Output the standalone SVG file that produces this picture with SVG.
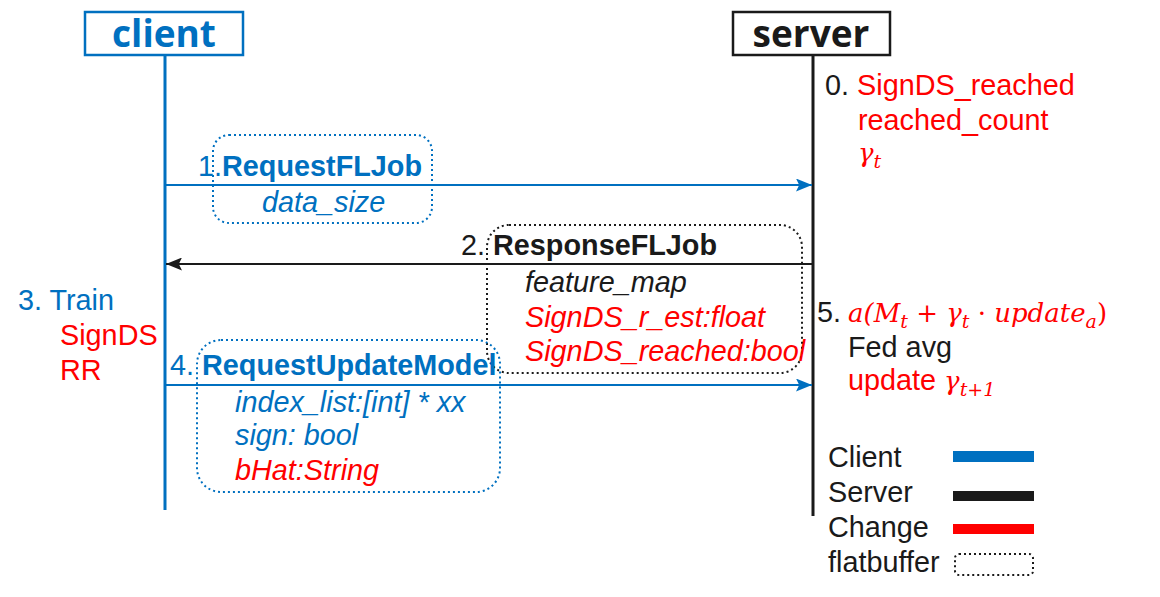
<svg xmlns="http://www.w3.org/2000/svg" width="1160" height="597" viewBox="0 0 1160 597">
<style>
.t{font-family:"Liberation Sans",Arial,sans-serif;font-size:28.8px}
.b{font-weight:bold}
.i{font-style:italic}
.blue{fill:#0070C0}
.red{fill:#FF0000}
.blk{fill:#1a1a1a}
.m{font-family:"DejaVu Serif","Liberation Serif",serif;font-style:italic;font-size:26px;fill:#FF0000}
.title{font-family:"Open Sans","DejaVu Sans",sans-serif;font-weight:bold;font-size:37px}
.fb{fill:none;stroke-width:2;stroke-dasharray:2 3}
</style>
<defs>
<marker id="ab" viewBox="0 0 10 10" refX="10" refY="5" markerWidth="16" markerHeight="13" markerUnits="userSpaceOnUse" orient="auto" preserveAspectRatio="none"><path d="M0,0 L10,5 L0,10 L2,5 z" fill="#0070C0"/></marker>
<marker id="ak" viewBox="0 0 10 10" refX="10" refY="5" markerWidth="16" markerHeight="13" markerUnits="userSpaceOnUse" orient="auto" preserveAspectRatio="none"><path d="M0,0 L10,5 L0,10 L2,5 z" fill="#1a1a1a"/></marker>
</defs>
<rect width="1160" height="597" fill="#fff"/>

<g id="client">
<rect x="85" y="12" width="158" height="43" fill="#fff" stroke="#0070C0" stroke-width="2.5"/>
<text class="title blue" x="164" y="47" text-anchor="middle">client</text>
<line x1="165" y1="55" x2="165" y2="510" stroke="#0070C0" stroke-width="3"/>
</g>
<g id="server">
<rect x="733" y="12" width="157" height="43" fill="#fff" stroke="#1a1a1a" stroke-width="2.5"/>
<text class="title blk" x="811" y="47" text-anchor="middle">server</text>
<line x1="813" y1="55" x2="813" y2="516" stroke="#1a1a1a" stroke-width="3"/>
</g>

<g id="connectors">
<line x1="166" y1="185" x2="812" y2="185" stroke="#0070C0" stroke-width="2" marker-end="url(#ab)"/>
<line x1="812" y1="264" x2="166" y2="264" stroke="#1a1a1a" stroke-width="2" marker-end="url(#ak)"/>
<line x1="166" y1="385" x2="812" y2="385" stroke="#0070C0" stroke-width="2" marker-end="url(#ab)"/>
</g>

<g id="msg1">
<rect class="fb" x="213" y="135" width="219" height="88" rx="16" stroke="#0070C0"/>
<text class="t blue" x="198" y="176">1.<tspan class="b">RequestFLJob</tspan></text>
<text class="t i blue" x="262" y="212">data_size</text>
</g>

<g id="msg2">
<rect class="fb" x="487" y="225" width="315" height="148" rx="22" stroke="#1a1a1a"/>
<text class="t blk" x="461" y="255">2. <tspan class="b">ResponseFLJob</tspan></text>
<text class="t i blk" x="525" y="292">feature_map</text>
<text class="t i red" x="525" y="327">SignDS_r_est:float</text>
<text class="t i red" x="525" y="361">SignDS_reached:bool</text>
</g>

<g id="train">
<text class="t blue" x="18" y="310">3. Train</text>
<text class="t red" x="60" y="345">SignDS</text>
<text class="t red" x="60" y="380">RR</text>
</g>

<g id="msg4">
<rect class="fb" x="197" y="340" width="303" height="152" rx="24" stroke="#0070C0"/>
<text class="t blue" x="170" y="375">4. <tspan class="b">RequestUpdateModel</tspan></text>
<text class="t i blue" x="235" y="412">index_list:[int] * xx</text>
<text class="t i blue" x="235" y="445">sign: bool</text>
<text class="t i red" x="235" y="480">bHat:String</text>
</g>

<g id="step0">
<text class="t blk" x="825" y="95">0. <tspan class="red">SignDS_reached</tspan></text>
<text class="t red" x="858" y="130">reached_count</text>
<text class="m" x="858" y="162">γ<tspan font-size="19" dy="6">t</tspan></text>
</g>

<g id="step5">
<text class="t blk" x="817" y="322">5.</text>
<text class="m" x="848" y="322">a(M<tspan font-size="19" dy="6">t</tspan><tspan dy="-6" font-style="normal"> + </tspan>γ<tspan font-size="19" dy="6">t</tspan><tspan dy="-6" font-style="normal"> · </tspan>update<tspan font-size="19" dy="6">a</tspan><tspan dy="-6" font-style="normal">)</tspan></text>
<text class="t blk" x="848" y="357">Fed avg</text>
<text class="t red" x="848" y="390">update <tspan class="m">γ<tspan font-size="19" dy="6">t+1</tspan></tspan></text>
</g>

<g id="legend">
<text class="t blk" x="828" y="467">Client</text>
<rect x="953" y="451" width="81" height="11" fill="#0070C0"/>
<text class="t blk" x="828" y="502">Server</text>
<rect x="953" y="491" width="81" height="10" fill="#1a1a1a"/>
<text class="t blk" x="828" y="537">Change</text>
<rect x="953" y="524" width="81" height="10" fill="#FF0000"/>
<text class="t blk" x="828" y="572">flatbuffer</text>
<rect class="fb" x="955" y="554" width="78" height="21" rx="4" stroke="#1a1a1a" stroke-width="2.5"/>
</g>
</svg>
